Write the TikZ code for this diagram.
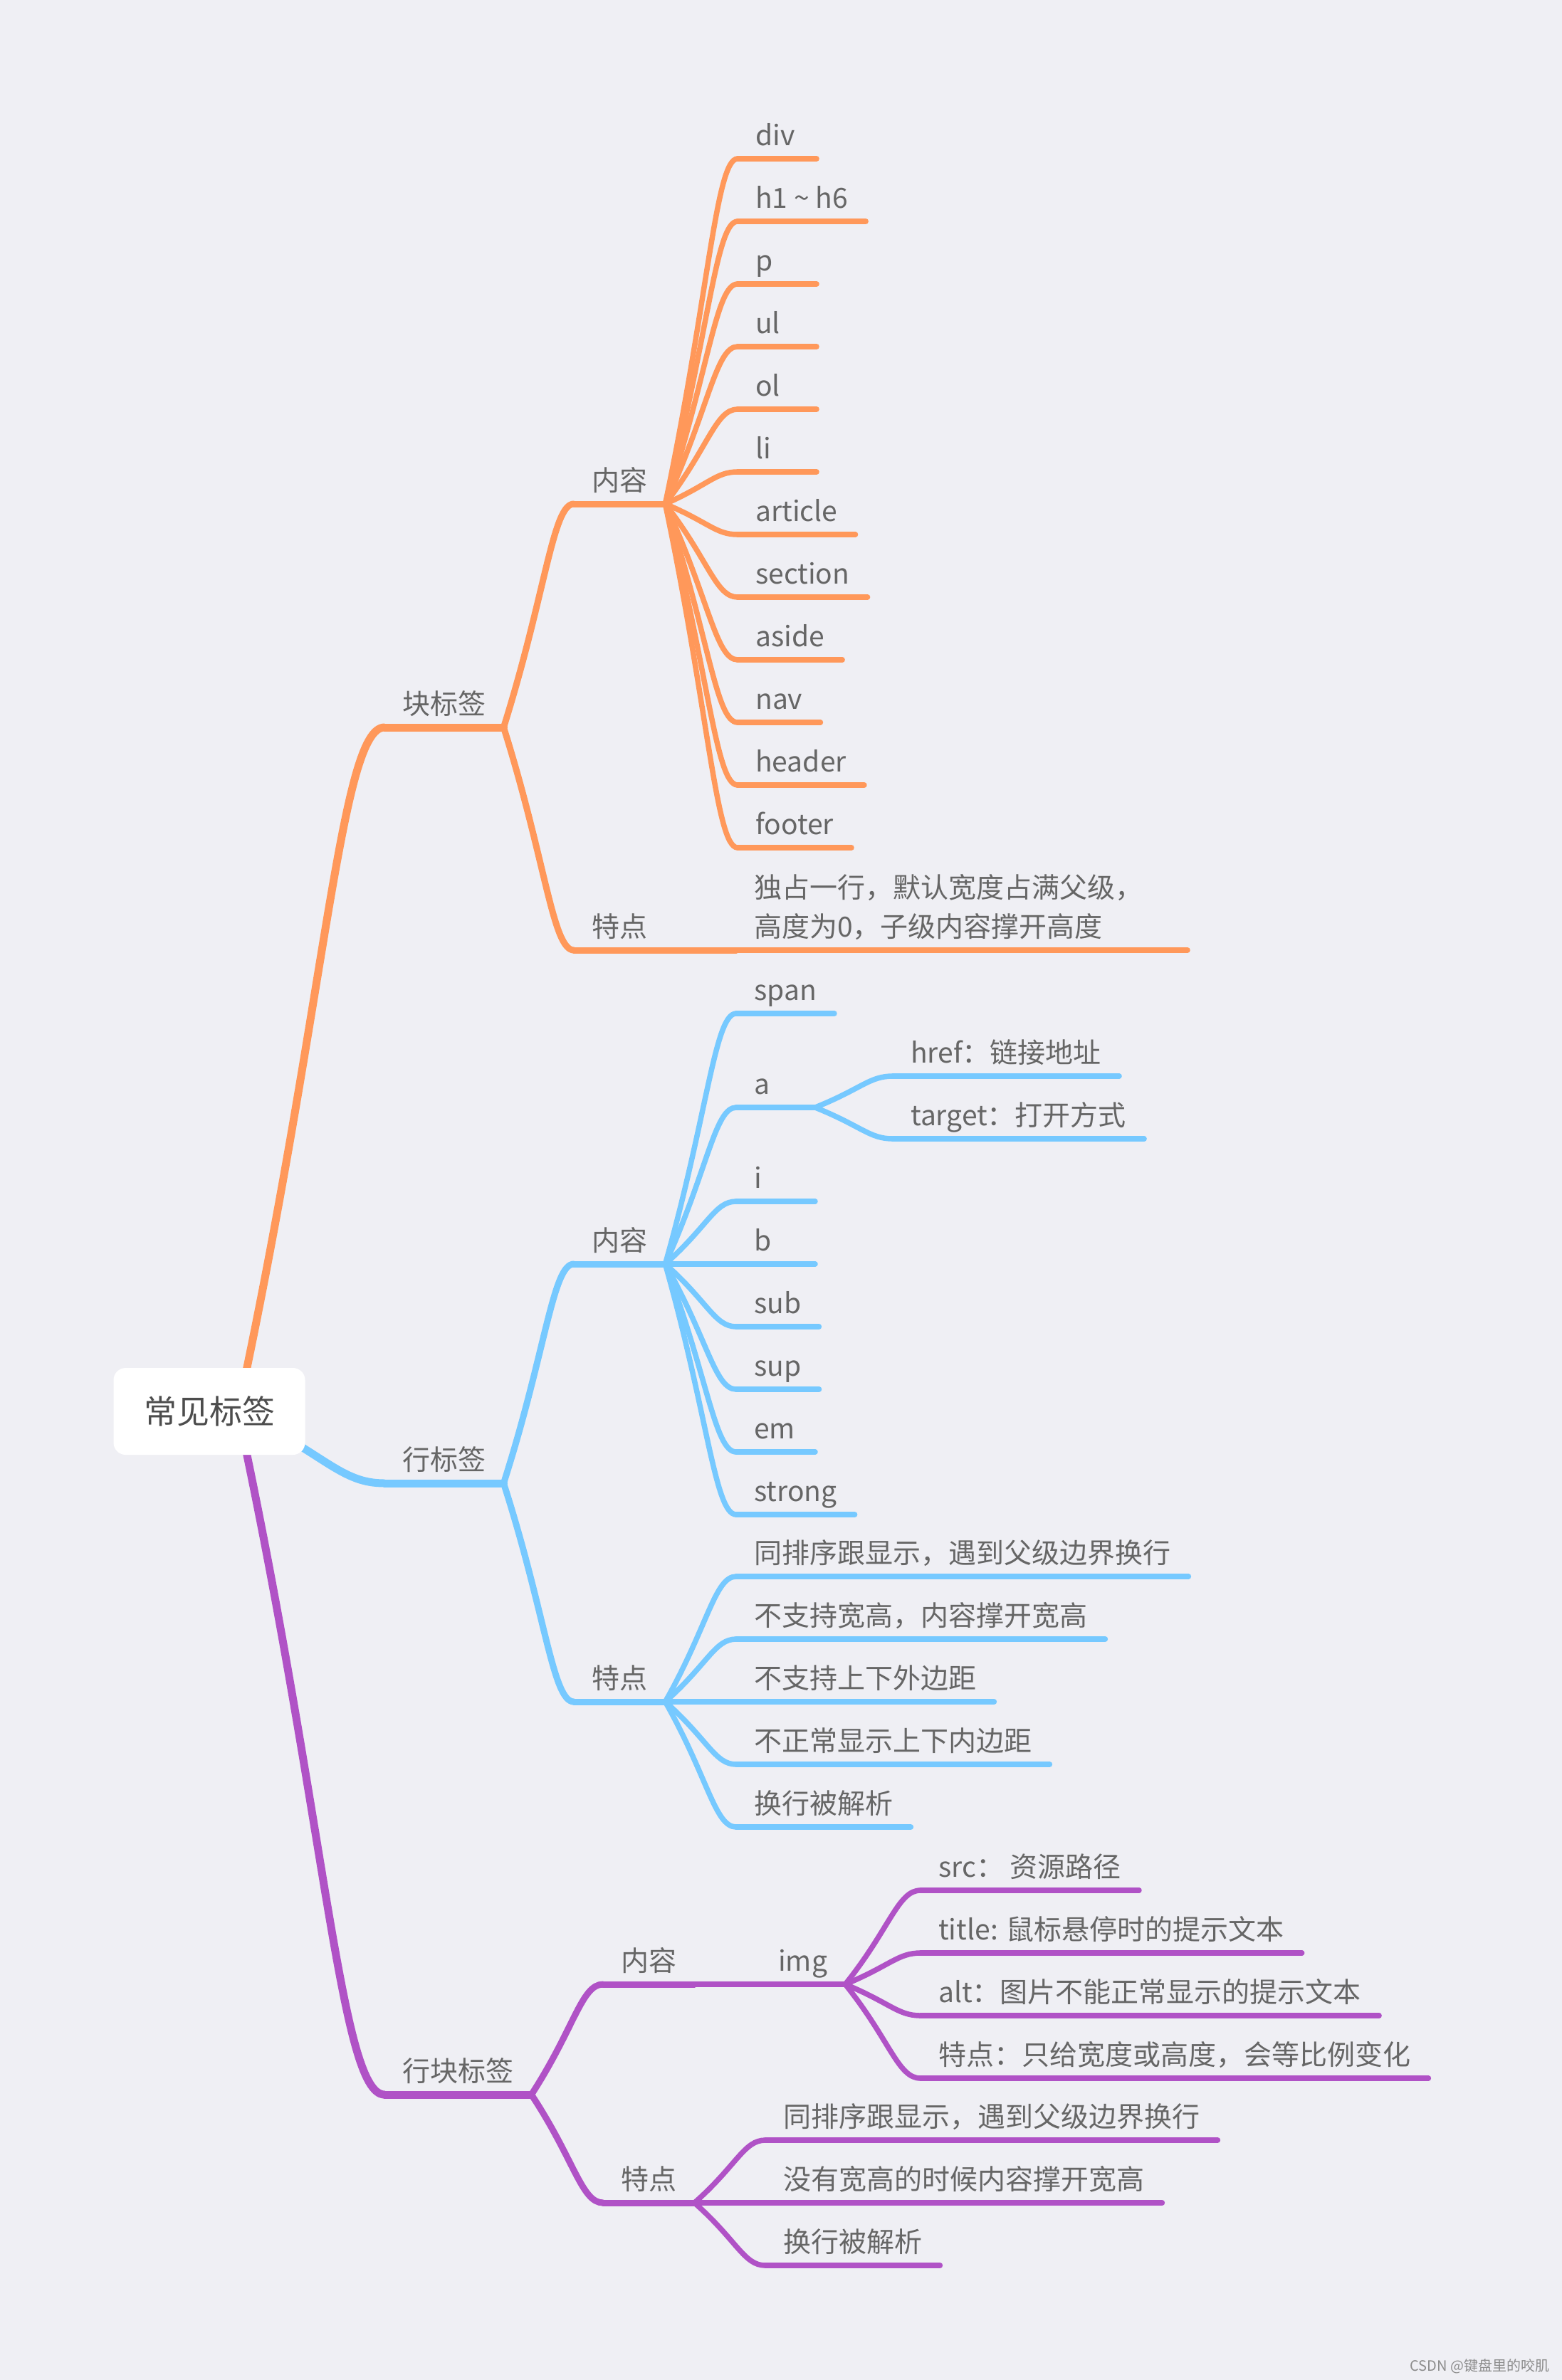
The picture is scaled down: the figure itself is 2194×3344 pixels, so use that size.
\documentclass[tikz,border=0pt]{standalone}
\usepackage{fontspec}
\setmainfont{Noto Sans CJK SC}
\usetikzlibrary{calc}

\definecolor{bgc}{HTML}{EFEFF4}
\definecolor{orng}{HTML}{FF985A}
\definecolor{skyb}{HTML}{76C9FF}
\definecolor{purp}{HTML}{B052C6}
\definecolor{txtc}{HTML}{666666}
\definecolor{roottxt}{HTML}{4D4D4D}

% curved branch: end of the parent line -> start of the child line
\newcommand\mmlink[3]{%
  \draw[#1] (#2) .. controls ($(#2)!.6!(#3)$) and ($(#3)!.3!(#2|-#3)$) .. (#3);}
% topic text on its line, (name-e) is where the line stops
\newcommand\mmleaf[4]{%
  \node[lbl] (#3) at ($(#2)+(0,-19)$) {#4};
  \path let \p1=(#3.east), \p2=(#2), \n1={max(\x1,\x2+111pt)} in
    coordinate (#3-e) at (\n1,\y2);
  \draw[#1] (#2) -- (#3-e);}

\begin{document}
\begin{tikzpicture}[x=1pt, y=-1pt, line cap=round,
  lbl/.style={anchor=base west, text=txtc, inner xsep=25pt, inner ysep=0pt,
    font=\fontsize{39}{55}\selectfont},
  l1/.style={line width=11pt},
  l2/.style={line width=9pt},
  l3/.style={line width=7.5pt},
  rootbox/.style={fill=white, rounded corners=17pt, minimum width=269pt,
    minimum height=122pt, text=roottxt, font=\fontsize{46}{46}\selectfont}
]
\fill[bgc] (0,0) rectangle (2194,3344);
\useasboundingbox (0,0) rectangle (2194,3344);

% main branches start behind the root box
\coordinate (r0) at (334,1983);
\coordinate (blk) at (540,1022);
\coordinate (inl) at (540,2084);
\coordinate (ibk) at (540,2943);
\mmlink{orng,l1}{r0}{blk}
\mmlink{skyb,l1}{r0}{inl}
\mmlink{purp,l1}{r0}{ibk}
\mmleaf{orng,l1}{blk}{blkT}{块标签}
\mmleaf{skyb,l1}{inl}{inlT}{行标签}
\mmleaf{purp,l1}{ibk}{ibkT}{行块标签}

% block tags
\coordinate (bc) at (806,708);
\coordinate (bf) at (806,1335);
\mmlink{orng,l2}{blkT-e}{bc}
\mmlink{orng,l2}{blkT-e}{bf}
\mmleaf{orng,l2}{bc}{bcT}{内容}
\mmleaf{orng,l2}{bf}{bfT}{特点}
\foreach \yy/\txt [count=\idx] in {223/div, 311/{h1 \textasciitilde{} h6}, 399/p,
    487/ul, 575/ol, 663/li, 751/article, 839/section, 927/aside, 1015/nav,
    1103/header, 1191/footer} {
  \coordinate (o\idx) at (1036,\yy);
  \mmlink{orng,l3}{bcT-e}{o\idx}
  \mmleaf{orng,l3}{o\idx}{ot\idx}{\txt}
}
\coordinate (bf1) at (1034,1335);
\coordinate (bf1e) at (1668,1335);
\draw[orng,l2] (bfT-e) -- (bf1);
\draw[orng,l3] (bf1) -- (bf1e);
\node[lbl, anchor=south west, align=left] (bf1T) at ($(bf1)+(0,-14)$)
  {独占一行，默认宽度占满父级，\\高度为0，子级内容撑开高度};

% inline tags
\coordinate (ic) at (806,1776);
\coordinate (if) at (806,2391);
\mmlink{skyb,l2}{inlT-e}{ic}
\mmlink{skyb,l2}{inlT-e}{if}
\mmleaf{skyb,l2}{ic}{icT}{内容}
\mmleaf{skyb,l2}{if}{ifT}{特点}
\foreach \yy/\txt [count=\idx] in {1424/span, 1556/a, 1688/i, 1776/b, 1864/sub,
    1952/sup, 2040/em, 2128/strong} {
  \coordinate (s\idx) at (1034,\yy);
  \mmlink{skyb,l3}{icT-e}{s\idx}
  \mmleaf{skyb,l3}{s\idx}{st\idx}{\txt}
}
\coordinate (ah) at (1254,1512);
\coordinate (at) at (1254,1600);
\mmlink{skyb,l3}{st2-e}{ah}
\mmlink{skyb,l3}{st2-e}{at}
\mmleaf{skyb,l3}{ah}{ahT}{href：链接地址}
\mmleaf{skyb,l3}{at}{atT}{target：打开方式}
\foreach \yy/\txt [count=\idx] in {2215/{同排序跟显示，遇到父级边界换行},
    2303/{不支持宽高，内容撑开宽高}, 2391/{不支持上下外边距},
    2479/{不正常显示上下内边距}, 2567/{换行被解析}} {
  \coordinate (f\idx) at (1034,\yy);
  \mmlink{skyb,l3}{ifT-e}{f\idx}
  \mmleaf{skyb,l3}{f\idx}{ft\idx}{\txt}
}

% inline-block tags
\coordinate (pc) at (847,2788);
\coordinate (pf) at (847,3095);
\mmlink{purp,l2}{ibkT-e}{pc}
\mmlink{purp,l2}{ibkT-e}{pf}
\mmleaf{purp,l2}{pc}{pcT}{内容}
\mmleaf{purp,l2}{pf}{pfT}{特点}
\coordinate (img) at (1068,2788);
\draw[purp,l3] (pcT-e) -- (img);
\mmleaf{purp,l3}{img}{imgT}{img}
\foreach \yy/\txt [count=\idx] in {2656/{src： 资源路径},
    2744/{title: 鼠标悬停时的提示文本}, 2832/{alt：图片不能正常显示的提示文本},
    2920/{特点：只给宽度或高度，会等比例变化}} {
  \coordinate (g\idx) at (1293,\yy);
  \mmlink{purp,l3}{imgT-e}{g\idx}
  \mmleaf{purp,l3}{g\idx}{gt\idx}{\txt}
}
\foreach \yy/\txt [count=\idx] in {3007/{同排序跟显示，遇到父级边界换行},
    3095/{没有宽高的时候内容撑开宽高}, 3183/{换行被解析}} {
  \coordinate (q\idx) at (1075,\yy);
  \mmlink{purp,l3}{pfT-e}{q\idx}
  \mmleaf{purp,l3}{q\idx}{qt\idx}{\txt}
}

\node[rootbox] (root) at (294,1983) {常见标签};
\node[anchor=east, text=black!45, font=\fontsize{20}{20}\selectfont] (wm)
  at (2180,3325) {CSDN @键盘里的咬肌};
\end{tikzpicture}
\end{document}
